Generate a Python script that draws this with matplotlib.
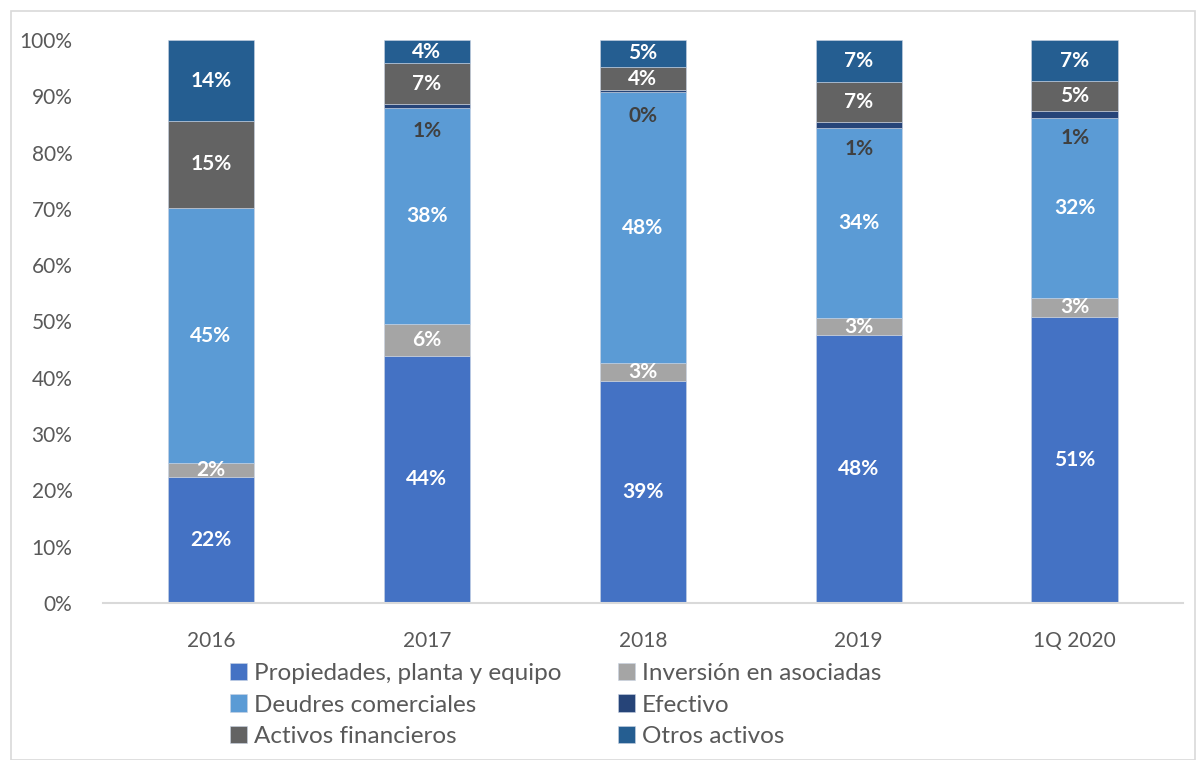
import matplotlib
matplotlib.use("Agg")
import matplotlib.pyplot as plt
from matplotlib.patches import Rectangle
import numpy as np

plt.rcParams['font.family'] = ['Lato', 'DejaVu Sans']

categories = ["2016", "2017", "2018", "2019", "1Q 2020"]

# Asset composition, percent of total assets
propiedades = [22.4, 43.9, 39.4, 47.6, 50.8]
inversion   = [2.4, 5.7, 3.2, 3.0, 3.4]
deudores    = [45.4, 38.4, 48.1, 33.7, 32.0]
efectivo    = [0.0, 0.6, 0.4, 1.1, 1.1]
activos_fin = [15.4, 7.3, 4.1, 7.2, 5.4]
otros       = [14.4, 4.1, 4.8, 7.4, 7.3]

series_names = ["Propiedades, planta y equipo", "Inversión en asociadas",
                "Deudres comerciales", "Efectivo",
                "Activos financieros", "Otros activos"]
series_values = [propiedades, inversion, deudores, efectivo, activos_fin, otros]
series_colors = ["#4472C4", "#A5A5A5", "#5B9BD5", "#264478", "#636363", "#255E91"]

fig = plt.figure(figsize=(11.97, 7.60), dpi=100)
ax = fig.add_axes([0.086, 0.2066, 0.902, 0.7408])

x = np.arange(len(categories))
bar_w = 0.40
bottom = np.zeros(len(categories))
handles = []
for name, vals, col in zip(series_names, series_values, series_colors):
    vals = np.array(vals)
    h = ax.bar(x, vals, bar_w, bottom=bottom, color=col, label=name,
               edgecolor="#c9d3e3", linewidth=0.4)
    handles.append(h)
    for xi, b, v in zip(x, bottom, vals):
        if name == "Efectivo":
            if v <= 0:
                continue
            ax.annotate(f"{v:.0f}%", (xi, b + v), xytext=(0, -19),
                        textcoords="offset points", ha="center", va="center",
                        color="#404040", fontsize=15, fontweight="bold")
        else:
            ax.text(xi, b + v / 2, f"{v:.0f}%", ha="center", va="center",
                    color="white", fontsize=15, fontweight="bold")
    bottom = bottom + vals

ax.set_xlim(-0.5, len(categories) - 0.5)
ax.set_ylim(0, 100)
ax.set_yticks(np.arange(0, 101, 10))
ax.set_yticklabels([f"{t}%" for t in range(0, 101, 10)])
ax.set_xticks(x)
ax.set_xticklabels(categories)
ax.tick_params(axis="both", length=0, labelsize=15, labelcolor="#595959")
ax.tick_params(axis="y", pad=22)
ax.tick_params(axis="x", pad=20)
for s in ["top", "right", "left"]:
    ax.spines[s].set_visible(False)
ax.spines["bottom"].set_color("#D9D9D9")
ax.spines["bottom"].set_linewidth(1.5)

# legend laid out row-wise in two columns
order = [0, 2, 4, 1, 3, 5]
leg = fig.legend([handles[i] for i in order], [series_names[i] for i in order],
                 ncol=2, loc="center left", bbox_to_anchor=(230 / 1197, 55 / 760),
                 frameon=False, fontsize=17.5, handlelength=0.7, handleheight=0.7,
                 handletextpad=0.3, columnspacing=2.3, labelspacing=0.42,
                 borderaxespad=0, borderpad=0)
for t in leg.get_texts():
    t.set_color("#595959")

# chart-area border
fig.patches.append(Rectangle((11 / 1197, 0), 1 - 13 / 1197, 1 - 11 / 760,
                             transform=fig.transFigure, fill=False,
                             edgecolor="#D9D9D9", linewidth=1.2))

fig.savefig("out.png", dpi=100)
